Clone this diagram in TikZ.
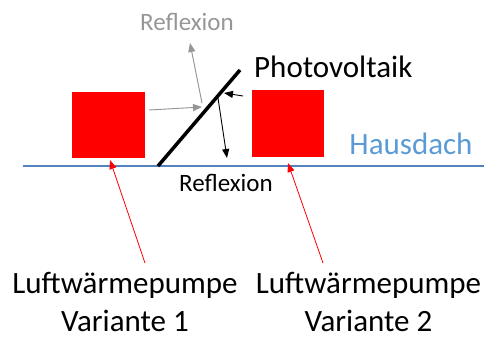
\documentclass[tikz,border=0pt]{standalone}
\usepackage{fontspec}
\setmainfont{Carlito}
\usepackage{xcolor}
\usetikzlibrary{arrows.meta}
\usetikzlibrary{positioning}

\definecolor{dachlinie}{RGB}{84,130,190}
\definecolor{dachtext}{RGB}{91,155,213}
\definecolor{reflgrau}{RGB}{150,150,150}

\begin{document}
\begin{tikzpicture}[
  x=1pt,y=-1pt,
  every node/.style={inner sep=0pt},
  pumpe/.style={rectangle,fill=red,minimum width=73pt,minimum height=66pt},
  gross/.style={font=\fontsize{31}{38}\selectfont},
  klein/.style={font=\fontsize{25}{30}\selectfont},
  pfeil/.style={-{Triangle[length=9pt,width=7pt]}},
  graupfeil/.style={pfeil,draw=reflgrau,fill=reflgrau,line width=0.9pt},
  schwarzpfeil/.style={pfeil,line width=0.9pt},
  rotpfeil/.style={pfeil,red,line width=0.8pt}
]
  \useasboundingbox (0,0) rectangle (484,338);

  % Dach und Photovoltaik
  \coordinate (dachL) at (23,166);
  \coordinate (dachR) at (484,166);
  \draw[dachlinie,line width=1.5pt] (dachL) -- (dachR);
  \coordinate (pvA) at (158,166);
  \coordinate (pvB) at (240,70);
  \draw[line width=3.5pt] (pvA) -- (pvB);

  % Waermepumpen
  \node[pumpe] (wp1) at (108.5,125) {};
  \node[pumpe,minimum width=72pt,minimum height=67pt] (wp2) at (288,123.5) {};

  % Texte
  \node[gross,anchor=west] (pvtext) at (254,67) {Photovoltaik};
  \node[gross,text=dachtext] (haus) at (411,144) {Hausdach};
  \node[klein,text=reflgrau] (refl1) at (187,22) {Reflexion};
  \node[klein] (refl2) at (226,183) {Reflexion};
  \node[gross,align=center] (lbl1) at (125,302) {Luftwärmepumpe\\Variante 1};
  \node[gross,align=center] (lbl2) at (368.5,302) {Luftwärmepumpe\\Variante 2};

  % Reflexionspfeile
  \coordinate (g0) at (149,110);
  \coordinate (g1) at (202,107);
  \coordinate (g2) at (202,103);
  \coordinate (g3) at (190,43);
  \draw[graupfeil] (g0) -- (g1);
  \draw[graupfeil] (g2) -- (g3);
  \coordinate (b0) at (243,96);
  \coordinate (b1) at (224,93);
  \coordinate (b2) at (218,98);
  \coordinate (b3) at (227,158);
  \draw[schwarzpfeil] (b0) -- (b1);
  \draw[schwarzpfeil] (b2) -- (b3);

  % Beschriftungspfeile
  \coordinate (r1) at (145,263);
  \coordinate (r2) at (323,263);
  \coordinate (t1) at (110,160);
  \coordinate (t2) at (288,163);
  \draw[rotpfeil] (r1) -- (t1);
  \draw[rotpfeil] (r2) -- (t2);
\end{tikzpicture}
\end{document}
